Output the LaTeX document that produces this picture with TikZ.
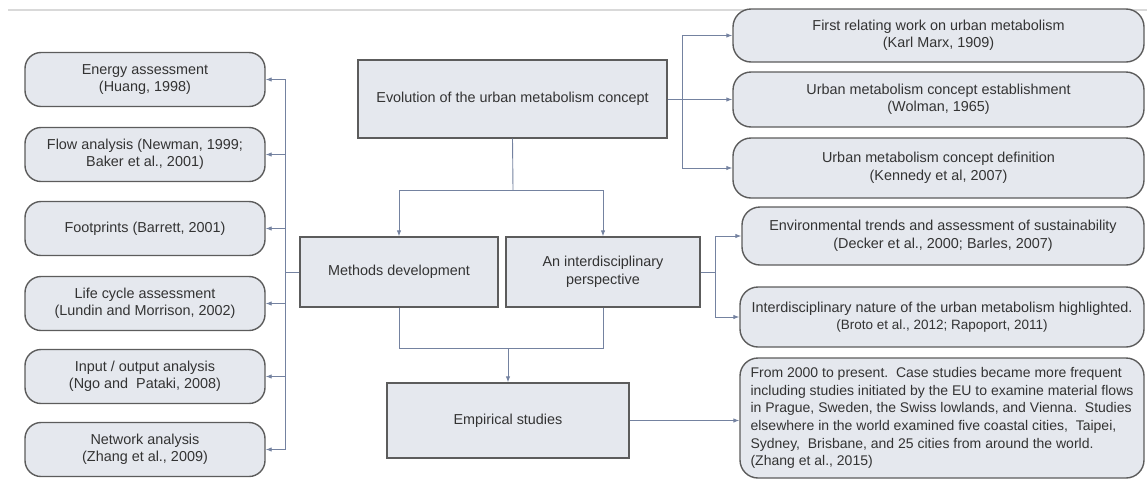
\documentclass[tikz,border=0pt]{standalone}
\usepackage{fontspec}
\setmainfont{Liberation Sans}
\usetikzlibrary{arrows.meta}
\definecolor{boxfill}{HTML}{E5E8EE}
\definecolor{boxline}{HTML}{5C5C5C}
\definecolor{connline}{HTML}{7482A0}
\definecolor{txt}{HTML}{333333}

\begin{document}
\begin{tikzpicture}[x=1pt,y=-1pt,
	lbox/.style={draw=boxline,fill=boxfill,line width=1.4pt,rounded corners=16pt,
		minimum width=240,minimum height=54,align=center,text=txt},
	rbox/.style={lbox,rounded corners=18pt},
	sqbox/.style={draw=boxline,fill=boxfill,line width=1.4pt,align=center,text=txt},
	conn/.style={draw=connline,line width=0.9pt},
	arr/.style={conn,-{Latex[length=6pt,width=4.5pt]}},
	font=\fontsize{14.4}{17.5}\selectfont]
	
	\useasboundingbox (0,0) rectangle (1147,480);
	\draw[black!15,line width=1.5pt] (8,10) -- (1147,10);
	
	% left column
	\node[lbox] (energy) at (145,79.5) {Energy assessment\\(Huang, 1998)};
	\node[lbox] (flow) at (145,154.5) {Flow analysis (Newman, 1999;\\Baker et al., 2001)};
	\node[lbox] (footp) at (145,228.5) {Footprints (Barrett, 2001)};
	\node[lbox] (lifecyc) at (145,303.5) {Life cycle assessment\\(Lundin and Morrison, 2002)};
	\node[lbox] (inout) at (145,376.5) {Input / output analysis\\(Ngo and\ \ Pataki, 2008)};
	\node[lbox] (network) at (145,449.5) {Network analysis\\(Zhang et al., 2009)};
	
	% middle
	\node[sqbox,minimum width=309,minimum height=78] (evol) at (512.5,99) {Evolution of the urban metabolism concept};
	\node[sqbox,minimum width=198,minimum height=70] (methods) at (399,272) {Methods development};
	\node[sqbox,minimum width=194,minimum height=70] (interd) at (603,272) {An interdisciplinary\\perspective};
	\node[sqbox,minimum width=242,minimum height=75] (empir) at (508,420.5) {Empirical studies};
	
	% right column
	\node[rbox,minimum width=411,minimum height=53] (marx) at (938.5,35.5) {First relating work on urban metabolism\\(Karl Marx, 1909)};
	\node[rbox,minimum width=411,minimum height=55] (wolman) at (938.5,99.5) {Urban metabolism concept establishment\\(Wolman, 1965)};
	\node[rbox,minimum width=411,minimum height=60] (kennedy) at (938.5,168) {Urban metabolism concept definition\\(Kennedy et al, 2007)};
	\node[rbox,minimum width=402,minimum height=58] (envtrend) at (943,236) {Environmental trends and assessment of sustainability\\(Decker et al., 2000; Barles, 2007)};
	\node[rbox,minimum width=404,minimum height=60] (internat) at (942,317) {Interdisciplinary nature of the urban metabolism highlighted.\\{\fontsize{13.5}{17}\selectfont(Broto et al., 2012; Rapoport, 2011)}};
	\node[rbox,minimum width=404,minimum height=120,inner sep=2pt,align=left,
		font=\fontsize{14}{17.6}\selectfont] (from2000) at (942,418)
		{From 2000 to present.\ \ Case studies became more frequent\\
		including studies initiated by the EU to examine material flows\\
		in Prague, Sweden, the Swiss lowlands, and Vienna.\ \ Studies\\
		elsewhere in the world examined five coastal cities,\ \ Taipei,\\
		Sydney,\ \ Brisbane, and 25 cities from around the world.\\
		(Zhang et al., 2015)};
	
	% bus points
	\coordinate (lbus) at (285,272);
	\coordinate (ejoin) at (513,190);
	\coordinate (rbus) at (682,99);
	\coordinate (ibus) at (715,272);
	\coordinate (mjoin) at (508,348);
	
	% connectors
	\draw[conn] (methods.west) -- (lbus);
	\foreach \n in {energy,flow,footp,lifecyc,inout,network}
		\draw[arr] (lbus) |- (\n.east);
	
	\draw[conn] (evol.south) -- (ejoin);
	\draw[arr] (ejoin) -| (methods.north);
	\draw[arr] (ejoin) -| (interd.north);
	
	\draw[conn] (evol.east) -- (rbus);
	\foreach \n in {marx,wolman,kennedy}
		\draw[arr] (rbus) |- (\n.west);
	
	\draw[conn] (interd.east) -- (ibus);
	\draw[arr] (ibus) |- (envtrend.west);
	\draw[arr] (ibus) |- (internat.west);
	
	\draw[conn] (methods.south) |- (mjoin);
	\draw[conn] (interd.south) |- (mjoin);
	\draw[arr] (mjoin) -- (empir.north);
	\draw[arr] (empir.east) -- (empir.east -| from2000.west);
	
\end{tikzpicture}
\end{document}
